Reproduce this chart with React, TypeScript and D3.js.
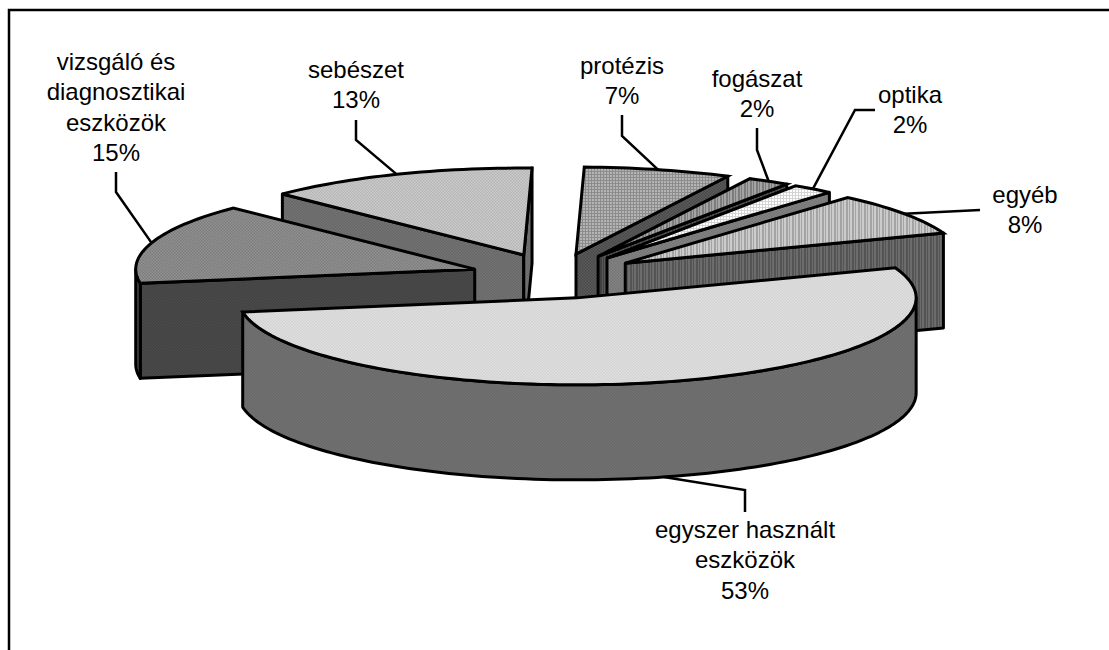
import React from "react";
import * as d3 from "d3";

// ---- data ----
const categories = ["egyszer használt eszközök", "vizsgáló és diagnosztikai eszközök", "sebészet", "protézis", "fogászat", "optika", "egyéb"];
const percents = [53, 15, 13, 7, 2, 2, 8];
const labelLines = [
  ["egyszer használt", "eszközök", "53%"],
  ["vizsgáló és", "diagnosztikai", "eszközök", "15%"],
  ["sebészet", "13%"],
  ["protézis", "7%"],
  ["fogászat", "2%"],
  ["optika", "2%"],
  ["egyéb", "8%"],
];
// ---- layout ----
const W = 1109, H = 650;
const CX = 555.5, CY = 276, RX = 339, RY = 87, DEPTH = 95, EXPLODE_X = 0.25, EXPLODE_Y = 0.26;
const START_DEG = 69.8; // d3 pie angle of the first slice
const labelCentres: [number, number][] = [[745, 538], [116, 70], [356, 78], [622, 74], [757, 87], [910, 103], [1025, 203]];
const FONT_SIZE = 24, LINE_H = 30.3;
// leader: elbows between label and slice edge
const leaderPts: [number, number][][] = [
  [[745, 512], [745, 490]],
  [[116, 172], [116, 192]],
  [[356, 120], [356, 140]],
  [[622, 115], [622, 136]],
  [[757, 128], [757, 150]],
  [[875, 110], [855, 110]],
  [[980, 210]],
];
// ---- fills ----
const topFill = ["url(#p0t)", "url(#p1t)", "url(#p2t)", "url(#p3t)", "url(#p4t)", "url(#p5t)", "url(#p6t)"];
const faceFill = ["url(#p0f)", "url(#p1f)", "url(#p2f)", "url(#p3f)", "url(#p4f)", "url(#p5f)", "url(#p6f)"];
const patterns: { id: string; kind: "dot" | "stripe" | "check"; bg: string; fg: string }[] = [
  { id: "p0t", kind: "check", bg: "#e0e0e0", fg: "#d2d2d2" },
  { id: "p0f", kind: "check", bg: "#727272", fg: "#686868" },
  { id: "p1t", kind: "check", bg: "#929292", fg: "#7c7c7c" },
  { id: "p1f", kind: "check", bg: "#4c4c4c", fg: "#404040" },
  { id: "p2t", kind: "check", bg: "#cccccc", fg: "#b4b4b4" },
  { id: "p2f", kind: "check", bg: "#747474", fg: "#666666" },
  { id: "p3t", kind: "dot", bg: "#b4b4b4", fg: "#8c8c8c" },
  { id: "p3f", kind: "check", bg: "#5c5c5c", fg: "#484848" },
  { id: "p4t", kind: "stripe", bg: "#a4a4a4", fg: "#7c7c7c" },
  { id: "p4f", kind: "stripe", bg: "#585858", fg: "#404040" },
  { id: "p5t", kind: "dot", bg: "#ffffff", fg: "#d4d4d4" },
  { id: "p5f", kind: "check", bg: "#848484", fg: "#747474" },
  { id: "p6t", kind: "stripe", bg: "#cccccc", fg: "#a4a4a4" },
  { id: "p6f", kind: "stripe", bg: "#6c6c6c", fg: "#545454" },
];

const rad = (d: number) => (d * Math.PI) / 180;
const toXY = (theta: number, ox: number, oy: number): [number, number] => [ox + RX * Math.cos(theta), oy + RY * Math.sin(theta)];
const line = d3.line<[number, number]>();
const poly = (pts: [number, number][]) => line(pts) + "Z";

const pie = d3.pie<number>().sort(null).startAngle(rad(START_DEG)).endAngle(rad(START_DEG + 360));
const slices = pie(percents).map((a, i) => {
  const t0 = a.startAngle - Math.PI / 2;
  const t1 = a.endAngle - Math.PI / 2;
  const mid = (t0 + t1) / 2;
  const [ax, ay] = [CX + EXPLODE_X * RX * Math.cos(mid), CY + EXPLODE_Y * RY * Math.sin(mid)];
  return { i, t0, t1, mid, ax, ay };
});
const order = [...slices].sort((p, q) => Math.sin(p.mid) - Math.sin(q.mid));

const arcPts = (t0: number, t1: number, ox: number, oy: number): [number, number][] => {
  const n = Math.max(2, Math.ceil(Math.abs(t1 - t0) / rad(1.5)));
  return d3.range(n + 1).map((k) => toXY(t0 + ((t1 - t0) * k) / n, ox, oy));
};

const SW = 3;

function Slice({ s }: { s: (typeof slices)[number] }) {
  const { i, t0, t1, ax, ay } = s;
  const faces: React.ReactNode[] = [];
  const radial = (t: number, key: string) => {
    const p = toXY(t, ax, ay);
    return (
      <path key={key} d={poly([[ax, ay], p, [p[0], p[1] + DEPTH], [ax, ay + DEPTH]])} fill={faceFill[i]} stroke="#000" strokeWidth={SW} strokeLinejoin="round" />
    );
  };
  if (Math.cos(t0) < 0) faces.push(radial(t0, "start"));
  if (Math.cos(t1) > 0) faces.push(radial(t1, "end"));
  // outer wall: the part of the rim on the viewer's side
  const walls: React.ReactNode[] = [];
  [0, 2 * Math.PI].forEach((shift) => {
    const a = Math.max(t0, shift);
    const b = Math.min(t1, shift + Math.PI);
    if (b > a) {
      const topArc = arcPts(a, b, ax, ay);
      const botArc = arcPts(b, a, ax, ay + DEPTH);
      walls.push(<path key={"w" + shift} d={poly([...topArc, ...botArc])} fill={faceFill[i]} stroke="#000" strokeWidth={SW} strokeLinejoin="round" />);
    }
  });
  return (
    <g>
      {faces}
      {walls}
      <path d={poly([[ax, ay], ...arcPts(t0, t1, ax, ay)])} fill={topFill[i]} stroke="#000" strokeWidth={SW} strokeLinejoin="miter" />
    </g>
  );
}

function Pattern({ id, kind, bg, fg }: (typeof patterns)[number]) {
  if (kind === "stripe") {
    return (
      <pattern id={id} width={6} height={6} patternUnits="userSpaceOnUse">
        <rect width={6} height={6} fill={bg} />
        <rect x={0} width={2} height={6} fill={fg} />
        <rect x={3} width={1} height={6} fill={fg} />
      </pattern>
    );
  }
  if (kind === "check") {
    return (
      <pattern id={id} width={3} height={3} patternUnits="userSpaceOnUse">
        <rect width={3} height={3} fill={bg} />
        <rect width={1.5} height={1.5} fill={fg} />
        <rect x={1.5} y={1.5} width={1.5} height={1.5} fill={fg} />
      </pattern>
    );
  }
  return (
    <pattern id={id} width={3} height={3} patternUnits="userSpaceOnUse">
      <rect width={3} height={3} fill={bg} />
      <rect width={1} height={3} fill={fg} />
      <rect width={3} height={1} fill={fg} />
    </pattern>
  );
}

export default function App() {
  return (
    <svg width={W} height={H} viewBox={`0 0 ${W} ${H}`} style={{ position: "fixed", left: 0, top: 0, background: "#fff" }} role="img" aria-label={categories.join(", ")}>
      <defs>
        {patterns.map((p) => (
          <Pattern key={p.id} {...p} />
        ))}
      </defs>
      <path d={line([[9, H], [9, 10], [W, 10]]) as string} fill="none" stroke="#000" strokeWidth={2.5} />
      {order.map((s) => (
        <Slice key={s.i} s={s} />
      ))}
      {slices.map((s) => {
        const p = toXY(s.mid, s.ax, s.ay);
        const anchor: [number, number] = Math.sin(s.mid) > 0 ? [p[0], p[1] + DEPTH] : p;
        return <path key={s.i} d={line([...leaderPts[s.i], anchor]) as string} fill="none" stroke="#000" strokeWidth={2.5} />;
      })}
      {labelLines.map((lines, i) => (
        <text key={i} x={labelCentres[i][0]} textAnchor="middle" fontFamily="'Liberation Sans', Arial, sans-serif" fontSize={FONT_SIZE} fill="#000">
          {lines.map((t, j) => (
            <tspan key={j} x={labelCentres[i][0]} y={labelCentres[i][1] + j * LINE_H}>
              {t}
            </tspan>
          ))}
        </text>
      ))}
    </svg>
  );
}
